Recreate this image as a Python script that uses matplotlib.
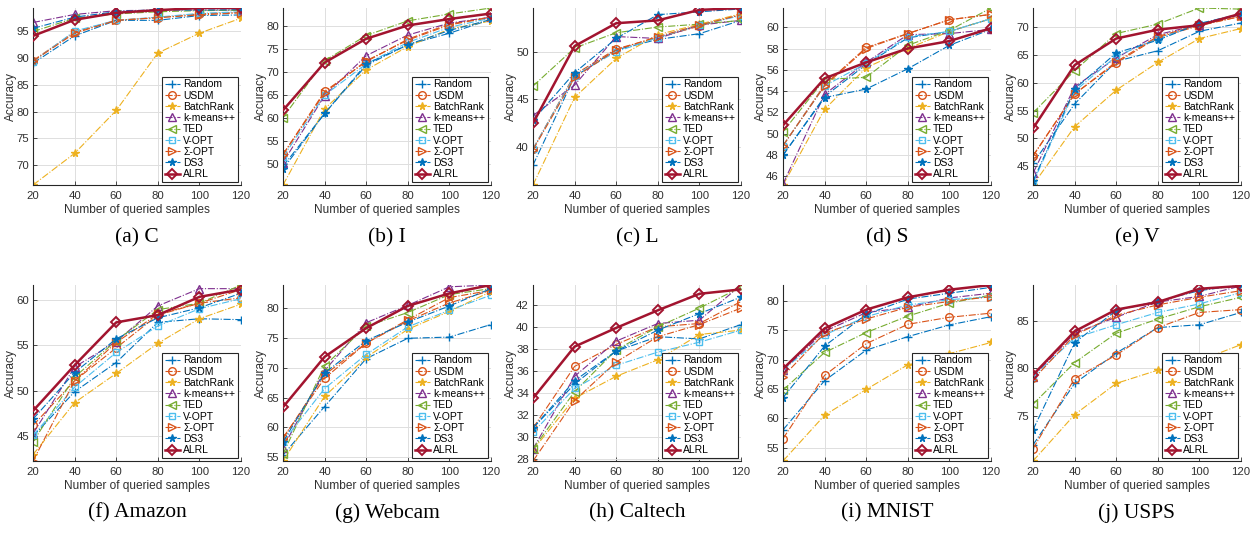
import numpy as np
import matplotlib
matplotlib.use("Agg")
import matplotlib.pyplot as plt
from matplotlib.ticker import MultipleLocator

queried = [20, 40, 60, 80, 100, 120]
methods = ["Random", "USDM", "BatchRank", "k-means++", "TED",
           "V-OPT", "Σ-OPT", "DS3", "ALRL"]

# rows follow the order of `methods`
acc_C = [
    [89.0, 94.1, 97.0, 97.0, 97.9, 98.0],
    [89.5, 94.8, 97.0, 97.5, 98.2, 98.5],
    [66.3, 72.2, 80.2, 90.9, 94.6, 97.4],
    [96.6, 98.1, 98.8, 98.9, 98.9, 98.9],
    [94.9, 97.4, 98.2, 98.6, 98.8, 98.9],
    [89.3, 95.0, 97.0, 97.6, 98.3, 98.6],
    [89.4, 94.6, 97.0, 97.5, 98.0, 98.4],
    [95.5, 97.6, 98.6, 99.0, 98.9, 99.0],
    [94.1, 97.1, 98.4, 98.9, 99.3, 99.3],
]
acc_I = [
    [49.5, 61.0, 71.5, 76.0, 78.5, 81.5],
    [52.1, 65.8, 72.3, 77.2, 80.5, 82.0],
    [45.4, 62.0, 70.5, 75.6, 79.4, 81.2],
    [50.3, 64.9, 73.6, 78.1, 80.7, 82.0],
    [60.1, 72.5, 78.0, 81.2, 82.7, 84.0],
    [51.5, 65.0, 71.8, 76.5, 79.8, 81.8],
    [52.0, 65.5, 72.5, 77.0, 80.3, 82.0],
    [48.9, 61.0, 71.8, 76.0, 79.1, 81.5],
    [61.7, 72.1, 77.3, 80.2, 81.6, 82.8],
]
acc_L = [
    [38.1, 47.4, 50.2, 51.3, 51.9, 53.3],
    [39.8, 47.6, 50.3, 51.5, 52.7, 53.9],
    [36.0, 45.2, 49.3, 51.8, 52.9, 54.0],
    [43.3, 46.5, 51.6, 51.4, 52.8, 53.3],
    [46.4, 50.4, 52.0, 52.6, 52.9, 53.3],
    [39.8, 47.5, 50.0, 51.5, 52.8, 53.8],
    [39.7, 47.3, 50.2, 51.6, 52.8, 53.9],
    [42.8, 47.8, 51.4, 53.9, 54.2, 54.5],
    [42.5, 50.6, 53.0, 53.3, 54.4, 54.6],
]
acc_S = [
    [48.0, 53.5, 56.5, 59.0, 59.6, 60.8],
    [48.9, 54.6, 58.1, 59.4, 60.7, 61.2],
    [45.2, 52.3, 56.2, 58.0, 59.6, 60.8],
    [45.3, 53.7, 56.7, 59.3, 59.4, 59.8],
    [50.2, 55.1, 55.3, 58.3, 59.7, 61.8],
    [48.9, 54.5, 56.6, 59.1, 59.6, 60.8],
    [48.9, 54.5, 58.0, 59.4, 60.7, 61.2],
    [48.0, 53.4, 54.2, 56.1, 58.3, 59.8],
    [50.8, 55.2, 56.7, 58.0, 58.7, 59.9],
]
acc_V = [
    [45.5, 56.2, 63.9, 65.8, 69.3, 70.8],
    [46.9, 58.0, 63.6, 68.2, 70.3, 72.0],
    [41.6, 52.1, 58.7, 63.7, 68.0, 69.8],
    [43.7, 59.3, 64.5, 68.7, 70.5, 72.3],
    [54.6, 62.2, 68.9, 70.6, 73.5, 73.3],
    [42.0, 58.5, 64.8, 68.0, 70.7, 72.5],
    [46.8, 58.0, 63.8, 68.4, 70.4, 72.0],
    [42.3, 58.9, 65.4, 67.7, 70.7, 72.4],
    [51.8, 63.2, 68.0, 69.6, 70.4, 72.5],
]
acc_Amazon = [
    [45.0, 49.9, 53.1, 57.5, 57.9, 57.8],
    [46.2, 51.1, 54.7, 58.3, 59.6, 60.2],
    [43.0, 48.7, 51.9, 55.2, 57.9, 59.5],
    [45.3, 52.6, 55.4, 59.3, 61.2, 61.2],
    [44.4, 51.5, 55.5, 58.9, 59.6, 61.6],
    [45.1, 50.4, 54.2, 57.1, 59.0, 60.1],
    [42.3, 51.1, 55.3, 58.4, 59.6, 61.1],
    [46.9, 52.0, 55.7, 58.0, 59.1, 60.7],
    [47.8, 52.8, 57.5, 58.3, 60.3, 61.1],
]
acc_Webcam = [
    [55.4, 63.5, 71.5, 74.9, 75.1, 77.2],
    [58.3, 68.2, 74.1, 77.8, 80.8, 82.9],
    [54.4, 65.2, 71.7, 76.4, 79.4, 82.7],
    [56.6, 69.5, 77.5, 80.4, 83.5, 83.8],
    [55.6, 70.3, 76.9, 79.2, 82.2, 83.2],
    [57.6, 66.5, 72.2, 76.8, 79.6, 82.1],
    [58.1, 68.8, 74.1, 78.0, 81.7, 82.9],
    [57.6, 69.1, 74.5, 77.6, 80.3, 83.2],
    [63.4, 71.8, 76.6, 80.3, 82.4, 83.8],
]
acc_Caltech = [
    [30.8, 34.8, 37.8, 39.1, 38.9, 40.2],
    [30.8, 36.4, 38.4, 40.0, 40.3, 42.3],
    [28.8, 33.5, 35.5, 37.0, 39.3, 39.7],
    [28.9, 35.5, 38.7, 40.3, 40.6, 43.8],
    [28.9, 34.1, 37.9, 40.0, 41.7, 43.6],
    [30.4, 34.4, 36.5, 37.7, 38.6, 39.7],
    [27.8, 33.3, 36.8, 39.1, 40.2, 41.7],
    [30.8, 35.1, 37.8, 39.7, 41.2, 42.7],
    [33.5, 38.2, 39.9, 41.5, 43.0, 43.4],
]
acc_MNIST = [
    [58.0, 66.4, 71.6, 73.9, 75.9, 77.3],
    [56.5, 67.3, 72.7, 76.0, 77.2, 77.9],
    [52.7, 60.5, 64.9, 69.1, 71.0, 72.9],
    [68.2, 74.8, 78.0, 78.9, 80.5, 81.3],
    [64.8, 71.2, 74.6, 77.4, 79.6, 81.0],
    [68.2, 74.2, 77.3, 79.3, 80.2, 80.7],
    [67.1, 74.5, 76.9, 78.9, 79.9, 80.7],
    [63.5, 72.3, 77.7, 80.3, 81.3, 82.3],
    [68.4, 75.3, 78.5, 80.6, 81.9, 82.7],
]
acc_USPS = [
    [71.9, 78.4, 81.6, 84.3, 84.6, 85.9],
    [71.5, 78.9, 81.4, 84.3, 85.9, 86.2],
    [70.2, 75.1, 78.4, 79.8, 80.8, 82.5],
    [79.1, 83.7, 85.4, 87.0, 87.6, 88.7],
    [76.2, 80.6, 83.7, 85.2, 86.5, 87.5],
    [79.1, 83.2, 84.6, 85.9, 86.8, 88.0],
    [78.8, 83.5, 85.6, 86.7, 87.5, 88.2],
    [73.5, 82.7, 86.1, 87.1, 88.2, 88.8],
    [79.3, 83.9, 86.2, 87.0, 88.4, 88.7],
]

panels = [acc_C, acc_I, acc_L, acc_S, acc_V,
          acc_Amazon, acc_Webcam, acc_Caltech, acc_MNIST, acc_USPS]
captions = ["(a) C", "(b) I", "(c) L", "(d) S", "(e) V",
            "(f) Amazon", "(g) Webcam", "(h) Caltech", "(i) MNIST", "(j) USPS"]
ystep = [5, 5, 5, 2, 5, 5, 5, 2, 5, 5]

colors = ["#0072BD", "#D95319", "#EDB120", "#7E2F8E", "#77AC30",
          "#4DBEEE", "#D95319", "#0072BD", "#A2142F"]
markers = ["+", "o", "*", "^", "<", "s", ">", "*", "D"]

plt.rcParams["font.family"] = ["Liberation Sans", "DejaVu Sans"]

fig = plt.figure(figsize=(12.57, 5.34), dpi=100)
txt = "#303030"

for i, data in enumerate(panels):
    row, col = divmod(i, 5)
    left = (33 + col * 250) / 1257
    if row == 0:
        ax = fig.add_axes([left, 1 - 185 / 534, 208 / 1257, 177 / 534])
    else:
        ax = fig.add_axes([left, 1 - 461 / 534, 208 / 1257, 176 / 534])

    for j, name in enumerate(methods):
        if name == "ALRL":
            ax.plot(queried, data[j], "-", color=colors[j], lw=1.8,
                    marker="D", ms=5, mfc="none", mew=1.4, label=name,
                    zorder=5)
        else:
            fill = colors[j] if markers[j] in "+*" else "none"
            ax.plot(queried, data[j], "-.", color=colors[j], lw=0.8,
                    marker=markers[j], ms=5.5 if markers[j] != "s" else 4,
                    mfc=fill, mew=1.0, label=name)

    arr = np.array(data)
    ax.set_xlim(20, 120)
    ax.set_ylim(arr.min(), arr.max())
    ax.set_xticks(queried)
    ax.yaxis.set_major_locator(MultipleLocator(ystep[i]))
    ax.grid(True, color="#dedede", lw=0.7)
    ax.set_axisbelow(True)
    for s in ["top", "right"]:
        ax.spines[s].set_visible(False)
    for s in ["left", "bottom"]:
        ax.spines[s].set_color("#262626")
        ax.spines[s].set_linewidth(0.8)
    ax.tick_params(direction="in", length=3, width=0.6, labelsize=8.2,
                   colors=txt)
    ax.tick_params(axis="x", pad=4)
    ax.tick_params(axis="y", pad=3)
    ax.set_xlabel("Number of queried samples", fontsize=8.6, color=txt,
                  labelpad=2.5)
    ax.set_ylabel("Accuracy", fontsize=8.6, color=txt)
    ax.yaxis.set_label_coords(-0.075, 0.5)

    leg = ax.legend(loc="lower right", fontsize=7.5, labelspacing=0.12,
                    handlelength=1.5, handletextpad=0.3, borderpad=0.25,
                    borderaxespad=0.3, fancybox=False, framealpha=1)
    leg.get_frame().set_edgecolor("#262626")
    leg.get_frame().set_linewidth(0.8)

    cy = 1 - 238 / 534 if row == 0 else 1 - 513 / 534
    fig.text(left + 104 / 1257, cy, captions[i], ha="center", va="center",
             fontsize=15.5, family=["Liberation Serif", "DejaVu Serif"])

fig.savefig("out.png", dpi=100)
